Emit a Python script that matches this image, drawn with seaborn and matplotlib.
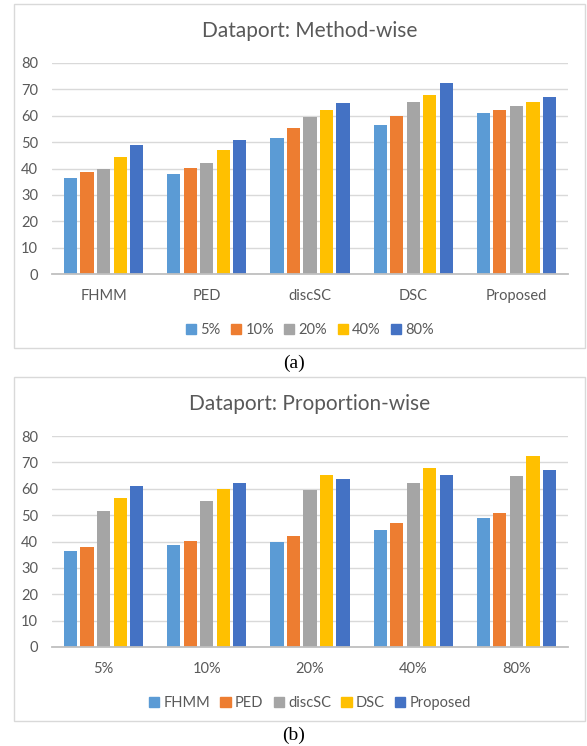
import pandas as pd
import matplotlib
matplotlib.use('Agg')
import matplotlib.pyplot as plt
import matplotlib.patches as mpatches
import seaborn as sns

methods = ['FHMM', 'PED', 'discSC', 'DSC', 'Proposed']
proportions = ['5%', '10%', '20%', '40%', '80%']

# scores per method, one entry per training proportion
fhmm = [36.5, 38.8, 40.0, 44.2, 49.0]
ped = [37.8, 40.1, 42.2, 46.9, 50.8]
discsc = [51.5, 55.5, 59.5, 62.2, 65.0]
dsc = [56.6, 60.0, 65.2, 67.8, 72.6]
proposed = [60.9, 62.3, 63.8, 65.2, 67.1]

colors = ['#5B9BD5', '#ED7D31', '#A5A5A5', '#FFC000', '#4472C4']
text_col = '#595959'

sns.set_style('white')
plt.rcParams['font.family'] = ['Lato', 'DejaVu Sans']

rows = []
for m, vals in zip(methods, [fhmm, ped, discsc, dsc, proposed]):
    for p, v in zip(proportions, vals):
        rows.append({'Method': m, 'Proportion': p, 'Score': v})
df = pd.DataFrame(rows)

fig = plt.figure(figsize=(5.87, 7.46), dpi=100)

# panel frames
for y0, y1 in [(4, 348), (377, 721)]:
    fig.patches.append(mpatches.Rectangle((14 / 587, 1 - y1 / 746), 571 / 587, (y1 - y0) / 746,
                                          transform=fig.transFigure, fill=False,
                                          edgecolor='#D9D9D9', linewidth=1.0))


def draw(ax, x, hue, order, hue_order, title):
    sns.barplot(data=df, x=x, y='Score', hue=hue, order=order, hue_order=hue_order,
                palette=colors, saturation=1, width=0.8, gap=0.2, linewidth=0,
                errorbar=None, ax=ax)
    ax.set_ylim(0, 80)
    ax.set_yticks(range(0, 81, 10))
    ax.set_xlim(-0.5, 4.5)
    ax.set_xlabel('')
    ax.set_ylabel('')
    ax.yaxis.grid(True, color='#D9D9D9', linewidth=1.0)
    ax.set_axisbelow(True)
    for s in ['top', 'right', 'left']:
        ax.spines[s].set_visible(False)
    ax.spines['bottom'].set_color('#BFBFBF')
    ax.spines['bottom'].set_linewidth(1.3)
    ax.tick_params(axis='both', length=0, labelsize=10.5, colors=text_col)
    ax.tick_params(axis='x', pad=11)
    ax.tick_params(axis='y', pad=10)
    ax.set_title(title, fontsize=15, color=text_col, pad=19)
    handles = [mpatches.Patch(color=c, label=l) for c, l in zip(colors, hue_order)]
    ax.legend(handles=handles, loc='upper center', bbox_to_anchor=(0.5, -0.17), ncol=5,
              frameon=False, fontsize=10.5, handlelength=0.7, handleheight=0.7,
              handletextpad=0.3, columnspacing=0.7, labelcolor=text_col)


ax1 = fig.add_axes([52 / 587, 1 - 274 / 746, 516 / 587, 211 / 746])
draw(ax1, 'Method', 'Proportion', methods, proportions, 'Dataport: Method-wise')

ax2 = fig.add_axes([52 / 587, 1 - 647 / 746, 516 / 587, 211 / 746])
draw(ax2, 'Proportion', 'Method', proportions, methods, 'Dataport: Proportion-wise')

fig.text(0.5, 1 - 363 / 746, '(a)', ha='center', va='center', fontsize=14,
         family=['Liberation Serif', 'DejaVu Serif'], color='black')
fig.text(0.5, 1 - 735 / 746, '(b)', ha='center', va='center', fontsize=14,
         family=['Liberation Serif', 'DejaVu Serif'], color='black')

fig.savefig('out.png', dpi=100)
